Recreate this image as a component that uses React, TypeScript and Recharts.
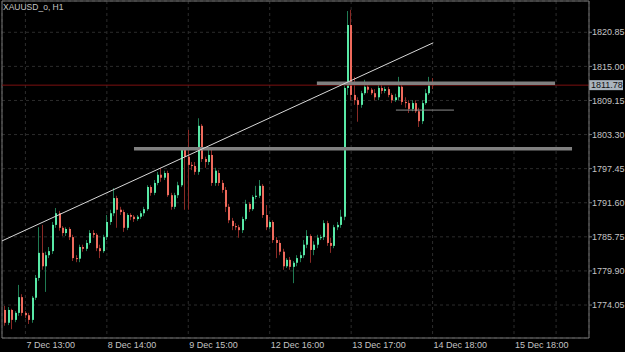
import React from "react";
import {
  ComposedChart,
  Bar,
  XAxis,
  YAxis,
  CartesianGrid,
  ReferenceLine,
} from "recharts";

// XAUUSD_o H1 candles, 7 Dec 07:00 onwards
const opens = [
  1773.2, 1771.0, 1773.2, 1771.5, 1772.7, 1775.4, 1772.7, 1772.3, 1771.5, 1775.3,
  1778.7, 1783.0, 1780.7, 1782.6, 1783.3, 1787.8, 1789.8, 1787.3, 1786.4, 1787.1,
  1785.7, 1782.1, 1782.0, 1784.0, 1783.7, 1784.7, 1786.4, 1786.1, 1783.8, 1783.3,
  1785.7, 1788.3, 1789.8, 1792.4, 1790.4, 1790.0, 1787.3, 1789.5, 1789.2, 1788.8,
  1789.2, 1789.8, 1790.5, 1794.3, 1793.3, 1795.0, 1796.4, 1795.9, 1796.7, 1792.9,
  1790.9, 1792.9, 1794.6, 1800.7, 1799.5, 1798.1, 1797.9, 1796.9, 1804.8, 1799.1,
  1798.6, 1799.8, 1795.0, 1796.7, 1795.0, 1793.8, 1790.9, 1788.5, 1787.6, 1787.4,
  1786.9, 1788.8, 1791.4, 1790.5, 1792.6, 1792.8, 1794.5, 1789.5, 1787.4, 1788.3,
  1785.2, 1784.7, 1783.2, 1780.7, 1781.8, 1780.6, 1781.3, 1782.1, 1782.6, 1784.4,
  1785.9, 1783.5, 1784.4, 1785.6, 1785.7, 1788.1, 1784.7, 1784.2, 1787.4, 1787.8,
  1789.2, 1811.3, 1822.1, 1810.1, 1809.2, 1808.4, 1810.4, 1811.5, 1811.0, 1810.4,
  1809.7, 1811.3, 1810.8, 1811.1, 1810.1, 1809.2, 1809.7, 1811.5, 1808.9, 1808.7,
  1807.7, 1808.7, 1807.3, 1805.6, 1808.7, 1810.4, 1811.9,
];
const highs = [
  1773.9, 1773.7, 1773.4, 1773.0, 1777.5, 1775.9, 1773.0, 1772.7, 1775.6, 1779.2,
  1787.4, 1787.8, 1783.2, 1784.0, 1788.3, 1790.7, 1790.2, 1787.6, 1787.4, 1787.4,
  1786.1, 1782.6, 1784.4, 1784.4, 1785.2, 1786.9, 1786.9, 1786.4, 1784.4, 1786.1,
  1789.5, 1790.4, 1794.1, 1792.8, 1790.9, 1790.4, 1789.8, 1789.8, 1789.5, 1789.5,
  1790.2, 1790.9, 1794.6, 1794.6, 1795.5, 1796.9, 1797.6, 1797.1, 1797.1, 1793.3,
  1793.3, 1795.2, 1801.0, 1801.0, 1804.1, 1798.6, 1798.6, 1806.1, 1805.1, 1799.5,
  1800.7, 1800.7, 1797.6, 1797.2, 1795.5, 1794.3, 1791.4, 1789.0, 1788.1, 1787.8,
  1789.2, 1792.1, 1791.7, 1792.9, 1794.5, 1795.5, 1794.8, 1791.2, 1788.6, 1788.6,
  1785.7, 1785.2, 1783.7, 1782.1, 1782.3, 1781.6, 1782.6, 1783.2, 1785.2, 1786.9,
  1786.2, 1785.0, 1786.1, 1786.1, 1788.6, 1788.5, 1785.6, 1787.8, 1788.3, 1790.4,
  1811.8, 1824.5, 1824.7, 1813.2, 1809.7, 1810.8, 1812.7, 1811.8, 1811.3, 1811.1,
  1811.8, 1811.8, 1811.5, 1811.5, 1810.4, 1810.3, 1813.2, 1811.8, 1809.7, 1809.2,
  1809.2, 1809.2, 1807.9, 1809.2, 1811.1, 1813.2, 1813.0,
];
const lows = [
  1770.5, 1770.6, 1769.9, 1771.1, 1772.2, 1772.2, 1771.8, 1770.8, 1771.0, 1774.9,
  1778.2, 1780.1, 1776.3, 1782.1, 1782.8, 1787.3, 1786.8, 1785.9, 1785.9, 1785.2,
  1781.6, 1781.4, 1781.4, 1783.2, 1783.3, 1784.4, 1785.6, 1783.3, 1782.1, 1783.0,
  1785.2, 1787.8, 1789.3, 1787.3, 1789.5, 1786.6, 1786.9, 1788.6, 1788.3, 1788.5,
  1788.8, 1789.3, 1790.2, 1792.8, 1792.9, 1794.6, 1795.2, 1795.5, 1792.6, 1790.4,
  1790.5, 1792.4, 1794.3, 1790.4, 1790.4, 1797.2, 1796.4, 1796.4, 1798.6, 1797.6,
  1798.1, 1794.5, 1794.5, 1794.5, 1793.3, 1790.0, 1788.1, 1786.9, 1786.9, 1785.6,
  1786.4, 1788.5, 1790.0, 1790.2, 1792.2, 1792.4, 1789.0, 1786.9, 1787.1, 1784.7,
  1782.1, 1782.6, 1780.1, 1780.4, 1780.1, 1777.8, 1780.7, 1781.4, 1782.1, 1783.8,
  1781.3, 1782.6, 1783.8, 1785.2, 1785.2, 1784.2, 1783.0, 1783.8, 1786.9, 1787.3,
  1788.6, 1810.1, 1809.2, 1808.4, 1805.5, 1807.9, 1810.1, 1810.4, 1810.1, 1809.2,
  1809.2, 1810.3, 1810.4, 1809.7, 1808.7, 1808.9, 1809.2, 1808.4, 1807.9, 1807.0,
  1807.3, 1807.0, 1804.6, 1805.1, 1808.4, 1810.1, 1811.1,
];
const closes = [
  1771.0, 1773.2, 1771.5, 1772.7, 1775.4, 1772.7, 1772.3, 1771.5, 1775.3, 1778.7,
  1783.0, 1780.7, 1782.6, 1783.3, 1787.8, 1789.8, 1787.3, 1786.4, 1787.1, 1785.7,
  1782.1, 1782.0, 1784.0, 1783.7, 1784.7, 1786.4, 1786.1, 1783.8, 1783.3, 1785.7,
  1788.3, 1789.8, 1792.4, 1790.4, 1790.0, 1787.3, 1789.5, 1789.2, 1788.8, 1789.2,
  1789.8, 1790.5, 1794.3, 1793.3, 1795.0, 1796.4, 1795.9, 1796.7, 1792.9, 1790.9,
  1792.9, 1794.6, 1800.7, 1799.5, 1798.1, 1797.9, 1796.9, 1804.8, 1799.1, 1798.6,
  1799.8, 1795.0, 1797.1, 1795.0, 1793.8, 1790.9, 1788.6, 1787.6, 1787.4, 1786.9,
  1788.8, 1791.4, 1790.5, 1792.6, 1792.8, 1794.5, 1789.5, 1787.4, 1788.3, 1785.2,
  1784.7, 1783.2, 1780.7, 1781.8, 1780.6, 1781.3, 1782.1, 1782.6, 1784.4, 1785.9,
  1783.5, 1784.4, 1785.6, 1785.7, 1788.1, 1784.7, 1784.2, 1787.4, 1787.8, 1789.2,
  1811.3, 1822.1, 1810.1, 1809.2, 1808.4, 1810.4, 1811.5, 1811.0, 1810.4, 1809.7,
  1811.3, 1810.8, 1811.1, 1810.1, 1809.2, 1809.7, 1811.5, 1808.9, 1808.7, 1807.7,
  1808.7, 1807.3, 1805.6, 1808.7, 1810.4, 1811.8, 1811.78,
];

const timeTicks = [6, 30, 54, 78, 102, 126, 150, 162.4];
const timeLabels = [
  "7 Dec 13:00",
  "8 Dec 14:00",
  "9 Dec 15:00",
  "12 Dec 16:00",
  "13 Dec 17:00",
  "14 Dec 18:00",
  "15 Dec 18:00",
  "",
];
const priceTicks = [
  1774.05, 1779.9, 1785.75, 1791.6, 1797.45, 1803.3, 1809.15, 1815.0, 1820.85,
];
const bidPrice = 1811.78;

// drawn objects: trend line, two thick levels, one thin level
const trendLine = [
  { x: -0.9, y: 1785.05 },
  { x: 126.2, y: 1819.05 },
];
const thickLevels = [
  { from: 91.9, to: 162.1, price: 1812.1 },
  { from: 38.0, to: 167.1, price: 1800.87 },
];
const thinLevel = { from: 115.2, to: 132.3, price: 1807.5 };

const xDomain = [-0.9, 172.1];
const yDomain = [1768.39, 1826.22];

const candles = opens.map((o, i) => ({
  i,
  o,
  h: highs[i],
  l: lows[i],
  c: closes[i],
  range: [lows[i], highs[i]],
}));

const FONT = "'Liberation Sans', Arial, sans-serif";
const TEXT = "#c4c4c4";
const FRAME = "#777";

const Candle = (props: any) => {
  const { x, y, width, height, payload } = props;
  if (!payload || height == null) return null;
  const { o, c, h, l } = payload;
  const up = c >= o;
  const left = Math.round(x + width / 2 - 1);
  const k = height / (h - l || 1);
  const top = y + (h - Math.max(o, c)) * k;
  const bot = y + (h - Math.min(o, c)) * k;
  return (
    <g>
      <line
        x1={left + 0.5}
        x2={left + 0.5}
        y1={y}
        y2={y + height}
        stroke={up ? "#1f7a52" : "#8a2a26"}
        strokeWidth={1}
      />
      <rect
        x={left}
        y={top}
        width={2}
        height={Math.max(1, bot - top)}
        fill={up ? "#58e8a6" : "#ef6a5c"}
      />
    </g>
  );
};

const TimeTick = (props: any) => {
  const { x, y, payload } = props;
  const label = timeLabels[timeTicks.indexOf(payload.value)];
  if (!label) return null;
  return (
    <text x={x + 1} y={y + 10} fill={TEXT} fontSize={9} fontFamily={FONT} textAnchor="start">
      {label}
    </text>
  );
};

const PriceTick = (props: any) => {
  const { x, y, payload } = props;
  return (
    <text x={x} y={y + 3.2} fill={TEXT} fontSize={9} fontFamily={FONT} textAnchor="start">
      {payload.value.toFixed(2)}
    </text>
  );
};

const BidTag = (props: any) => {
  const vb = props.viewBox || {};
  const x = vb.x + vb.width;
  const y = vb.y;
  return (
    <g>
      <rect x={x} y={y - 5} width={34} height={10} fill="#aab4be" />
      <text x={x + 2} y={y + 3.2} fill="#111" fontSize={9} fontFamily={FONT}>
        {bidPrice.toFixed(2)}
      </text>
    </g>
  );
};

export default function App() {
  return (
    <div
      style={{
        position: "absolute",
        left: 0,
        top: 0,
        width: 625,
        height: 352,
        background: "#000",
      }}>
      <div
        style={{
          position: "absolute",
          left: 3,
          top: 2,
          color: TEXT,
          fontFamily: FONT,
          fontSize: 8.5,
          zIndex: 2,
        }}>
        XAUUSD_o, H1
      </div>
      <ComposedChart
        width={625}
        height={352}
        data={candles}
        margin={{ top: 1, right: 0, left: 2, bottom: 0 }}>
        <CartesianGrid stroke="#2c2c2c" strokeDasharray="3 3" />
        <XAxis
          dataKey="i"
          type="number"
          domain={xDomain}
          ticks={timeTicks}
          interval={0}
          height={14}
          tick={<TimeTick />}
          tickSize={0}
          tickMargin={0}
          axisLine={{ stroke: FRAME }}
          allowDataOverflow
        />
        <YAxis
          orientation="right"
          type="number"
          domain={yDomain}
          ticks={priceTicks}
          interval={0}
          width={36}
          tick={<PriceTick />}
          tickSize={3}
          tickMargin={0}
          tickLine={{ stroke: FRAME }}
          axisLine={{ stroke: FRAME }}
          allowDataOverflow
        />
        <ReferenceLine y={yDomain[1]} stroke={FRAME} />
        <ReferenceLine x={xDomain[0]} stroke={FRAME} />
        <ReferenceLine y={bidPrice} stroke="#7d1010" label={<BidTag />} />
        {thickLevels.map((lv, k) => (
          <ReferenceLine
            key={k}
            segment={[
              { x: lv.from, y: lv.price },
              { x: lv.to, y: lv.price },
            ]}
            stroke="#808080"
            strokeWidth={3.6}
          />
        ))}
        <ReferenceLine
          segment={[
            { x: thinLevel.from, y: thinLevel.price },
            { x: thinLevel.to, y: thinLevel.price },
          ]}
          stroke="#8c8c8c"
        />
        <Bar
          dataKey="range"
          shape={<Candle />}
          barSize={2}
          isAnimationActive={false}
        />
        <ReferenceLine segment={trendLine} stroke="#d8d8d8" strokeWidth={1} />
      </ComposedChart>
    </div>
  );
}
